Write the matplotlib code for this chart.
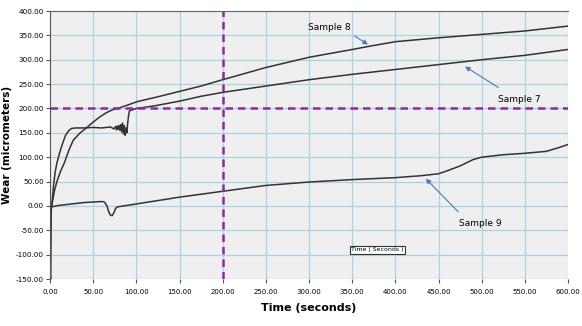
import matplotlib.pyplot as plt
import numpy as np

# readings taken off the original chart
t7 = [0, 1, 2, 4, 6, 8, 11, 14, 18, 22, 25, 30, 40, 50, 60, 70, 74, 76, 77, 78, 79, 80,
      81, 82, 83, 84, 85, 86, 87, 88, 89, 90, 91, 92, 95, 100, 120, 150, 175, 200, 250,
      300, 350, 400, 450, 500, 550, 600]
w7 = [-5, -3, -2, 40, 70, 88, 108, 125, 145, 155, 159, 160, 160, 161, 160, 162, 158, 163,
      156, 164, 157, 165, 155, 167, 152, 170, 148, 165, 145, 160, 150, 170, 185, 195, 197,
      200, 205, 215, 225, 233, 246, 259, 270, 280, 290, 300, 309, 321]

t8 = [2, 5, 8, 12, 17, 22, 27, 35, 42, 50, 58, 65, 72, 80, 90, 101, 125, 150, 175, 200,
      250, 300, 350, 371, 400, 450, 500, 550, 600]
w8 = [0, 30, 50, 70, 90, 115, 135, 150, 160, 172, 183, 191, 197, 201, 207, 214, 224, 235,
      246, 259, 284, 305, 321, 328, 337, 345, 352, 359, 369]

t9 = [0, 0.8, 1.5, 2, 10, 20, 30, 40, 50, 60, 63, 66, 68, 70, 72, 74, 76, 78, 85, 100, 125,
      150, 175, 200, 250, 300, 350, 400, 430, 450, 460, 475, 490, 500, 525, 550, 575, 590, 600]
w9 = [-140, -150, -5, -2, 1, 3, 5, 7, 8, 9, 8, 0, -12, -19, -20, -14, -5, -2, 0, 4, 11, 18,
      24, 30, 42, 49, 54, 58, 62, 66, 72, 82, 95, 100, 105, 108, 112, 120, 126]

xticks = np.arange(0, 601, 50)
yticks = np.arange(-150, 401, 50)

fig = plt.figure(figsize=(5.82, 3.26), dpi=100)
ax = fig.add_axes([50 / 582, 47 / 326, 518 / 582, 268 / 326])
ax.set_facecolor('#efefef')

ax.plot(t7, w7, color='#333333', lw=1.1)
ax.plot(t8, w8, color='#333333', lw=1.1)
ax.plot(t9, w9, color='#333333', lw=1.1)

ax.axhline(200, color='#8e2a9c', lw=1.8, ls=(0, (3, 2)))
ax.axvline(200, color='#8e2a9c', lw=1.8, ls=(0, (3, 2)))

ax.set_xlim(0, 600)
ax.set_ylim(-150, 400)
ax.set_xticks(xticks)
ax.set_yticks(yticks)
ax.set_xticklabels(['%.2f' % v for v in xticks], fontsize=5)
ax.set_yticklabels(['%.2f' % v for v in yticks], fontsize=5.2)
ax.grid(True, color='#a9d2e8', lw=0.9)
ax.set_axisbelow(True)
ax.tick_params(axis='both', length=3, width=0.8, color='#555555', pad=1.5)
ax.tick_params(axis='x', pad=4)

for s in ['right', 'bottom']:
    ax.spines[s].set_visible(False)
ax.spines['left'].set_color('#555555')
ax.spines['top'].set_color('#666666')

ax.set_xlabel('Time (seconds)', fontsize=8, fontweight='bold', labelpad=6)
ax.set_ylabel('Wear (micrometers)', fontsize=7.5, fontweight='bold', labelpad=3)

arrow = dict(arrowstyle='-|>', color='#4a7ab5', lw=0.8, mutation_scale=7)
ax.text(324, 367, 'Sample 8', fontsize=6.5, ha='center', va='center')
ax.annotate('', xy=(371, 328), xytext=(350, 352), arrowprops=arrow)
ax.text(544, 218, 'Sample 7', fontsize=6.5, ha='center', va='center')
ax.annotate('', xy=(478, 289), xytext=(522, 240), arrowprops=arrow)
ax.text(498, -36, 'Sample 9', fontsize=6.5, ha='center', va='center')
ax.annotate('', xy=(433, 60), xytext=(475, -16), arrowprops=arrow)

ax.text(379, -90, 'Time ( Seconds )', fontsize=4.5, ha='center', va='center',
        bbox=dict(boxstyle='square,pad=0.2', fc='white', ec='#333333', lw=0.8))

fig.savefig('out.png', dpi=100)
